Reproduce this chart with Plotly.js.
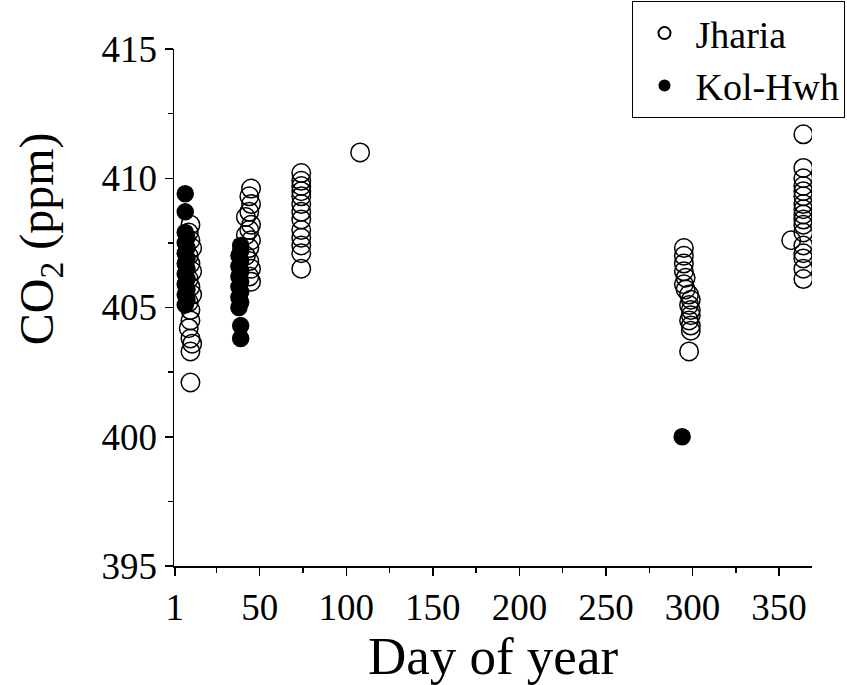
<!DOCTYPE html>
<html>
<head>
<meta charset="utf-8">
<script src="https://cdn.plot.ly/plotly-3.0.1.min.js"></script>
<style>html,body{margin:0;padding:0;background:#fff;}#chart{width:847px;height:685px;}</style>
</head>
<body>
<div id="chart"></div>
<script>
// Jharia (open circles)
const jhariaDay = [
  10, 9, 10, 11, 9, 10, 11, 9, 10, 11, 9, 10, 10, 9, 10, 11, 10, 10,
  45, 44, 45, 44, 42, 45, 44, 42, 45, 44, 42, 44, 45, 44, 45,
  74, 74, 74, 74, 74, 74, 74, 74, 74, 74, 74, 74, 74,
  108,
  295, 295, 295, 295, 296, 295, 296, 298, 299, 298, 299, 299, 298, 299, 299, 298,
  364, 364, 364, 364, 364, 364, 364, 364, 364, 364, 364, 364, 357, 364, 364, 364, 364, 364
];
const jhariaCO2 = [
  408.2, 407.9, 407.6, 407.3, 407.0, 406.7, 406.4, 406.1, 405.8, 405.5, 405.2, 404.9, 404.5, 404.2, 403.8, 403.6, 403.3, 402.1,
  409.6, 409.3, 409.0, 408.7, 408.5, 408.2, 408.0, 407.8, 407.6, 407.3, 407.0, 406.8, 406.5, 406.2, 406.0,
  410.2, 409.9, 409.7, 409.5, 409.3, 409.0, 408.7, 408.4, 408.0, 407.7, 407.4, 407.1, 406.5,
  411.0,
  407.3, 407.0, 406.7, 406.4, 406.15, 405.9, 405.7, 405.5, 405.3, 405.1, 404.9, 404.7, 404.5, 404.3, 404.1, 403.3,
  411.7, 410.4, 410.0, 409.7, 409.5, 409.3, 409.0, 408.8, 408.6, 408.4, 408.2, 407.9, 407.6, 407.4, 407.1, 406.9, 406.5, 406.1
];
// Kol-Hwh (filled circles)
const kolDay = [
  7, 7, 7, 8, 7, 8, 7, 8, 7, 8, 7, 8, 7, 8, 7, 8, 7,
  39, 39, 38, 39, 38, 39, 38, 39, 38, 39, 38, 39, 38, 39, 39,
  294
];
const kolCO2 = [
  409.4, 408.7, 407.9, 407.7, 407.5, 407.3, 407.1, 406.9, 406.7, 406.5, 406.3, 406.1, 405.9, 405.7, 405.5, 405.3, 405.1,
  407.4, 407.2, 407.0, 406.8, 406.6, 406.4, 406.2, 406.0, 405.8, 405.6, 405.4, 405.2, 405.0, 404.3, 403.8,
  400.0
];
const xTickVals = [1, 50, 100, 150, 200, 250, 300, 350];
const xTickText = ["1", "50", "100", "150", "200", "250", "300", "350"];
const xMinorVals = [25, 75, 125, 175, 225, 275, 325];
const yTickVals = [395, 400, 405, 410, 415];

const font = "Liberation Serif";

const traces = [
  {
    x: jhariaDay, y: jhariaCO2, name: "Jharia", type: "scatter", mode: "markers",
    marker: {symbol: "circle-open", size: 18.5, color: "#000", line: {width: 1.5, color: "#000"}}
  },
  {
    x: kolDay, y: kolCO2, name: "Kol-Hwh", type: "scatter", mode: "markers",
    marker: {symbol: "circle", size: 17.5, color: "#000", line: {width: 0}}
  }
];

const layout = {
  width: 847, height: 685,
  margin: {l: 174, r: 35, t: 49, b: 119, autoexpand: false},
  paper_bgcolor: "#fff", plot_bgcolor: "#fff",
  font: {family: font, color: "#000"},
  showlegend: true,
  legend: {
    x: 1.0525, xanchor: "right",
    y: 1.093, yanchor: "top",
    bordercolor: "#000", borderwidth: 1, bgcolor: "#fff",
    font: {family: font, size: 38, color: "#000"},
    itemsizing: "constant", tracegroupgap: 0, itemwidth: 52
  },
  xaxis: {
    range: [0.5, 369], showgrid: false, zeroline: false,
    showline: true, linecolor: "#000", linewidth: 1.5,
    ticks: "outside", ticklen: 8, tickwidth: 1.5, tickcolor: "#000",
    tickmode: "array", tickvals: xTickVals, ticktext: xTickText,
    tickfont: {family: font, size: 37, color: "#000"},
    minor: {tickmode: "array", tickvals: xMinorVals, ticks: "outside", ticklen: 5, tickwidth: 1.5, tickcolor: "#000", showgrid: false},
    title: {text: "Day of year", font: {family: font, size: 53, color: "#000"}, standoff: 12}
  },
  yaxis: {
    range: [395, 415], showgrid: false, zeroline: false,
    showline: true, linecolor: "#000", linewidth: 1.5,
    ticks: "outside", ticklen: 8, tickwidth: 1.5, tickcolor: "#000",
    tickmode: "array", tickvals: yTickVals,
    tickfont: {family: font, size: 37, color: "#000"},
    minor: {dtick: 2.5, ticks: "outside", ticklen: 5, tickwidth: 1.5, tickcolor: "#000", showgrid: false}
  },
  annotations: [{
    text: "CO<sub>2</sub> (ppm)", textangle: -90, showarrow: false,
    xref: "paper", yref: "paper", x: -0.21, y: 0.632,
    xanchor: "center", yanchor: "middle",
    font: {family: font, size: 48, color: "#000"}
  }]
};

Plotly.newPlot("chart", traces, layout, {displayModeBar: false, staticPlot: true});
</script>
</body>
</html>
